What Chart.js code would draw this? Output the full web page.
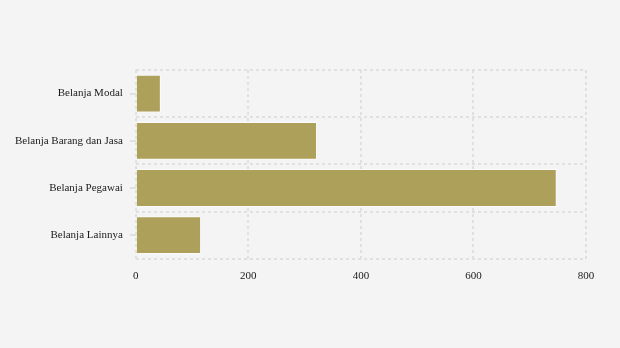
<!DOCTYPE html>
<html>
<head>
<meta charset="utf-8">
<script src="https://cdn.jsdelivr.net/npm/chart.js@4"></script>
<style>
	html, body { margin: 0; padding: 0; background: #f4f4f4; }
	#wrap { width: 620px; height: 348px; }
</style>
</head>
<body>
<div id="wrap"><canvas id="chart"></canvas></div>
<script>
const categories = ['Belanja Modal', 'Belanja Barang dan Jasa', 'Belanja Pegawai', 'Belanja Lainnya'];
const values = [44.5, 322, 748, 116];
const xTicks = [0, 200, 400, 600, 800];

var loadChart = () => {
	const data = {
		labels: categories,
		datasets: [{
			data: values,
			backgroundColor: '#ada05b',
			borderColor: 'rgba(255,255,255,0.6)',
			borderWidth: 1,
			barPercentage: 0.8,
			categoryPercentage: 1
		}]
	};

	const config = {
		type: 'bar',
		data: data,
		options: {
			indexAxis: 'y',
			responsive: true,
			maintainAspectRatio: false,
			animation: false,
			layout: { padding: { top: 70, right: 34, bottom: 54, left: 8 } },
			plugins: { legend: { display: false }, tooltip: { enabled: false } },
			scales: {
				x: {
					min: 0,
					max: 800,
					afterBuildTicks: (axis) => { axis.ticks = xTicks.map(v => ({ value: v })); },
					grid: { color: '#e0e0e0', lineWidth: 2, drawTicks: false },
					border: { display: false },
					ticks: { color: '#1a1a1a', padding: 11, font: { family: 'Liberation Serif', size: 11 } }
				},
				// labels + solid tick marks at the category centres
				y: {
					grid: { offset: false, drawOnChartArea: false, tickLength: 6, tickColor: '#e0e0e0', lineWidth: 2 },
					border: { display: false },
					ticks: { color: '#1a1a1a', padding: 7, font: { family: 'Liberation Serif', size: 11 } }
				},
				// dashed grid lines between categories
				y2: {
					type: 'category',
					position: 'left',
					offset: true,
					grid: { color: '#e0e0e0', lineWidth: 2, offset: true, drawTicks: false },
					border: { display: false },
					ticks: { display: false }
				}
			}
		}
	};

	new Chart(document.getElementById('chart'), config);
}

Chart.defaults.scale.border.dash = [3, 3];
Chart.defaults.scale.grid.borderDash = [3, 3];
loadChart();
</script>
</body>
</html>
